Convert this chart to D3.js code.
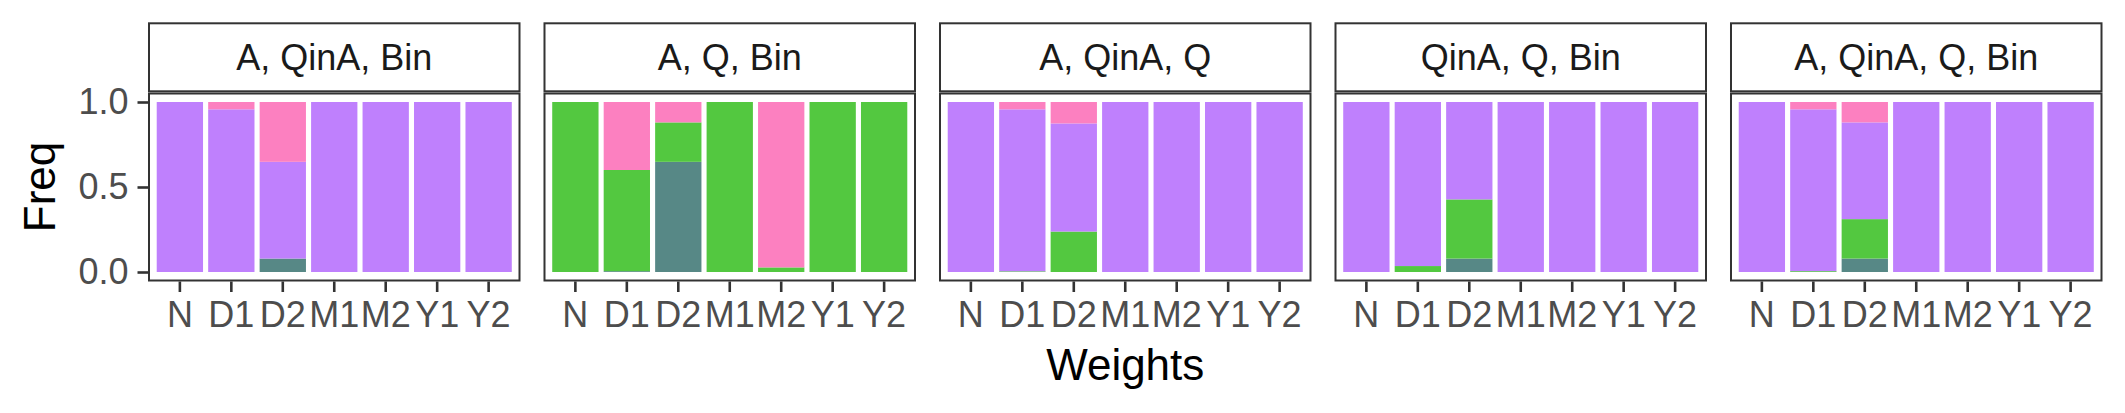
<!DOCTYPE html>
<html>
<head>
<meta charset="utf-8">
<script src="https://cdn.jsdelivr.net/npm/d3@7"></script>
<style>
  html, body { margin: 0; padding: 0; background: #fff; }
  svg { display: block; }
  text { font-family: "Liberation Sans", Arial, Helvetica, sans-serif; }
</style>
</head>
<body>
<svg id="chart" width="2125" height="413"></svg>
<script>
// ---- data ----
const facets = ["A, QinA, Bin", "A, Q, Bin", "A, QinA, Q", "QinA, Q, Bin", "A, QinA, Q, Bin"];
const weights = ["N", "D1", "D2", "M1", "M2", "Y1", "Y2"];
const groups = ["teal", "green", "purple", "pink"]; // stacking order bottom -> top
const groupColors = ["#578886", "#53C840", "#BF80FD", "#FC80C0"];
const yTicks = [0, 0.5, 1];

// values per facet (rows) x weight (cols)
const tealVals = [
  [0, 0,     0.079, 0, 0,     0, 0],
  [0, 0.005, 0.648, 0, 0,     0, 0],
  [0, 0,     0,     0, 0,     0, 0],
  [0, 0,     0.079, 0, 0,     0, 0],
  [0, 0,     0.079, 0, 0,     0, 0]
];
const greenVals = [
  [0, 0,     0,     0, 0,     0, 0],
  [1, 0.595, 0.232, 1, 0.027, 1, 1],
  [0, 0.004, 0.238, 0, 0,     0, 0],
  [0, 0.035, 0.348, 0, 0,     0, 0],
  [0, 0.005, 0.232, 0, 0,     0, 0]
];
const purpleVals = [
  [1, 0.957, 0.569, 1, 1,     1, 1],
  [0, 0,     0,     0, 0,     0, 0],
  [1, 0.953, 0.636, 1, 1,     1, 1],
  [1, 0.965, 0.573, 1, 1,     1, 1],
  [1, 0.952, 0.569, 1, 1,     1, 1]
];
const pinkVals = [
  [0, 0.043, 0.352, 0, 0,     0, 0],
  [0, 0.400, 0.120, 0, 0.973, 0, 0],
  [0, 0.043, 0.126, 0, 0,     0, 0],
  [0, 0,     0,     0, 0,     0, 0],
  [0, 0.043, 0.120, 0, 0,     0, 0]
];
const seriesVals = [tealVals, greenVals, purpleVals, pinkVals];

// ---- layout ----
const svg = d3.select("#chart");
const panelTop = 93.5, panelBottom = 280.5;
const stripTop = 23.3, stripBottom = 91.3;

const fx = d3.scaleBand().domain(facets).range([149, 2101.5]).paddingInner(0.0632).paddingOuter(0);
const x = d3.scaleBand().domain(weights).range([0, fx.bandwidth()]).paddingInner(0.1).paddingOuter(0.15);
const y = d3.scaleLinear().domain([-0.05, 1.05]).range([panelBottom, panelTop]);
const color = d3.scaleOrdinal().domain(groups).range(groupColors);
const border = "#333333";

facets.forEach((f, fi) => {
  const g = svg.append("g").attr("transform", `translate(${fx(f)},0)`);
  // build stacked data
  const rows = weights.map((w, wi) => {
    const r = { weight: w };
    groups.forEach((gr, gi) => r[gr] = seriesVals[gi][fi][wi]);
    return r;
  });
  const stacked = d3.stack().keys(groups)(rows);

  g.selectAll("g.layer").data(stacked).join("g")
    .attr("class", "layer")
    .attr("fill", d => color(d.key))
    .selectAll("rect").data(d => d.filter(s => s[1] - s[0] > 0)).join("rect")
      .attr("x", d => x(d.data.weight))
      .attr("width", x.bandwidth())
      .attr("y", d => y(d[1]))
      .attr("height", d => y(d[0]) - y(d[1]));

  // panel border
  g.append("rect")
    .attr("x", 0).attr("y", panelTop)
    .attr("width", fx.bandwidth()).attr("height", panelBottom - panelTop)
    .attr("fill", "none").attr("stroke", border).attr("stroke-width", 2);

  // strip
  g.append("rect")
    .attr("x", 0).attr("y", stripTop)
    .attr("width", fx.bandwidth()).attr("height", stripBottom - stripTop)
    .attr("fill", "#fff").attr("stroke", border).attr("stroke-width", 2);
  g.append("text")
    .attr("x", fx.bandwidth() / 2).attr("y", (stripTop + stripBottom) / 2)
    .attr("dy", "0.355em")
    .attr("text-anchor", "middle")
    .attr("font-size", 36).attr("fill", "#1A1A1A")
    .text(f);

  // x axis
  const xa = g.append("g").attr("transform", `translate(0,${panelBottom + 1})`)
    .call(d3.axisBottom(x).tickSize(10.5).tickPadding(9));
  xa.select(".domain").remove();
  xa.selectAll(".tick line").attr("stroke", border).attr("stroke-width", 2.6);
  xa.selectAll(".tick text").attr("font-size", 36).attr("fill", "#4D4D4D")
    .attr("font-family", "'Liberation Sans', Arial, sans-serif").attr("dy", "0.71em");

  if (fi === 0) {
    const ya = g.append("g").attr("transform", `translate(-1,0)`)
      .call(d3.axisLeft(y).tickValues(yTicks).tickFormat(d3.format(".1f")).tickSize(10.5).tickPadding(9));
    ya.select(".domain").remove();
    ya.selectAll(".tick line").attr("stroke", border).attr("stroke-width", 2.6);
    ya.selectAll(".tick text").attr("font-size", 36).attr("fill", "#4D4D4D")
      .attr("font-family", "'Liberation Sans', Arial, sans-serif");
  }
});

// axis titles
svg.append("text")
  .attr("x", (149 + 2101.5) / 2).attr("y", 380)
  .attr("text-anchor", "middle").attr("font-size", 44).attr("fill", "#000")
  .text("Weights");
svg.append("text")
  .attr("transform", `translate(54.5,${(panelTop + panelBottom) / 2}) rotate(-90)`)
  .attr("text-anchor", "middle").attr("font-size", 44).attr("fill", "#000")
  .text("Freq");
</script>
</body>
</html>
